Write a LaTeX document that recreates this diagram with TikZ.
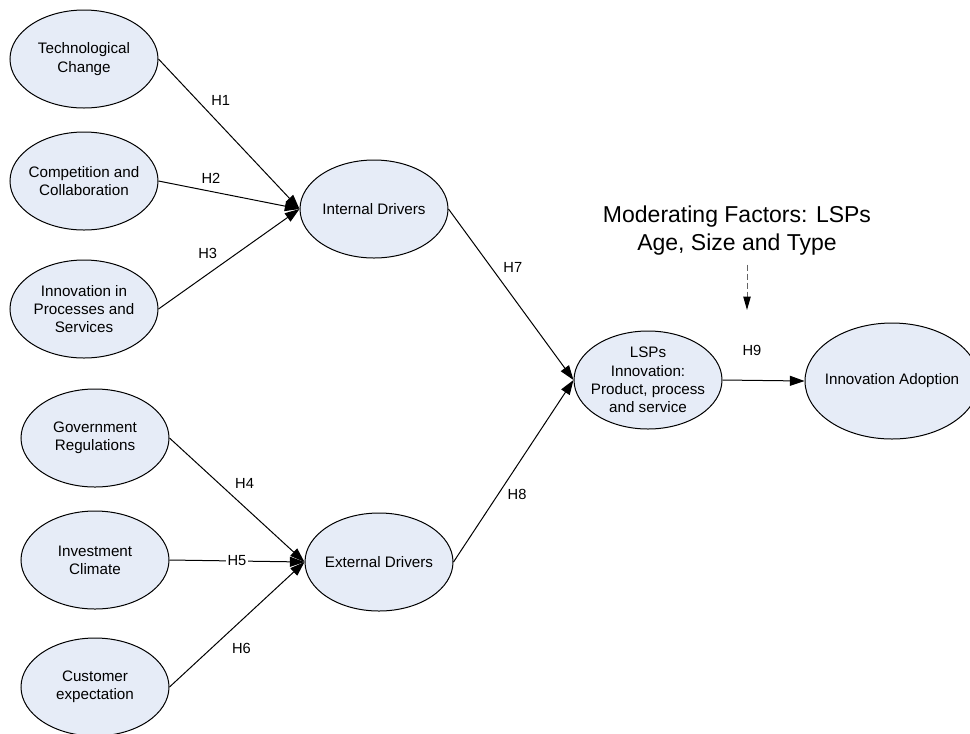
\documentclass[tikz,border=0pt]{standalone}
\usepackage{fontspec}
\setmainfont{Liberation Sans}
\usetikzlibrary{shapes.geometric,positioning,arrows.meta}
\definecolor{ovalfill}{RGB}{230,236,247}
\definecolor{dashgray}{RGB}{100,100,100}

\begin{document}
\begin{tikzpicture}[x=0.75pt,y=-0.75pt,node distance=91.5pt,on grid,auto,line width=0.75pt,
    construct/.style={ellipse,draw,fill=ovalfill,minimum width=111pt,minimum height=73.5pt,
      inner xsep=-6pt,inner ysep=-2pt,align=center,font=\fontsize{11.4}{13.7}\selectfont},
    hyp/.style={font=\fontsize{11}{13}\selectfont},
    >={Triangle[length=11pt,width=7.5pt]}]
	   \useasboundingbox (0,0) rectangle (970,733);
	   \node[construct] (c_1) at (84,59) {Technological\\Change};
	   \node[construct] (c_2) [below=of c_1] {Competition and\\Collaboration};
	   \node[construct] (c_3) [below=96pt of c_2] {Innovation in\\Processes and\\Services};
	   \node[construct] (c_4) at (95,438) {Government\\Regulations};
	   \node[construct] (c_5) [below=of c_4] {Investment\\Climate};
	   \node[construct] (c_6) [below=95.25pt of c_5] {Customer\\expectation};
	   \node[construct] (int) at (374,209) {Internal Drivers};
	   \node[construct] (ext) at (379,562) {External Drivers};
	   \node[construct] (lsp) at (648,380) {LSPs\\Innovation:\\Product, process\\and service};
	   \node[construct,minimum width=130.5pt,minimum height=87pt] (ado) at (892,381) {Innovation Adoption};
	   \node[font=\fontsize{17.25}{21}\selectfont,align=center] (mod) at (737,231) {Moderating Factors: LSPs\\Age, Size and Type};
	   \coordinate (mod_tip) at (747,310);
	    \path[->]
	    (c_1.east) edge node[hyp,pos=0.34] {H1} (int.west)
	    (c_2.east) edge node[hyp,pos=0.27] {H2} (int.west)
	    (c_3.east) edge node[hyp,pos=0.45] {H3} (int.west)
	    (c_4.east) edge node[hyp,pos=0.45] {H4} (ext.west)
	    (c_5.east) edge node[hyp,auto=false,fill=white,inner sep=1pt] {H5} (ext.west)
	    (c_6.east) edge node[hyp,pos=0.41,swap,inner sep=5pt] {H6} (ext.west)
	    (int.east) edge node[hyp,pos=0.40] {H7} (lsp.west)
	    (ext.east) edge node[hyp,pos=0.42,swap,inner sep=2.5pt] {H8} (lsp.west)
	    (lsp.east) edge node[hyp,pos=0.36,auto=false,above=15pt] {H9} (ado.west);
	    \draw[->,dashgray,dash pattern=on 4.5pt off 2.25pt,shorten <=3pt,
	      >={Triangle[length=10pt,width=5.5pt,color=black,fill=black]}] (mod.south -| mod_tip) -- (mod_tip);
	\end{tikzpicture}
\end{document}
